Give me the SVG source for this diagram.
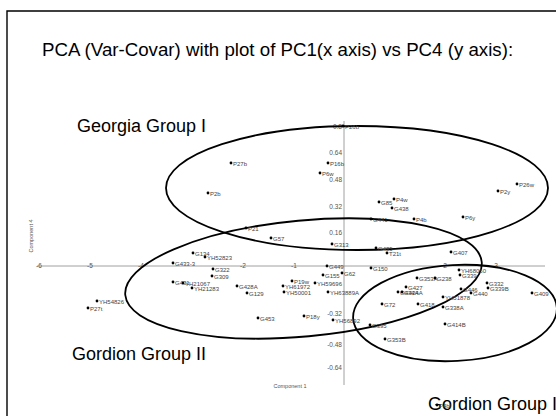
<svg xmlns="http://www.w3.org/2000/svg" width="556" height="416" viewBox="0 0 556 416">
<style>
.big{font-family:"Liberation Sans",Arial,sans-serif;font-size:18px;fill:#000}
.pt{font-family:"Liberation Sans",Arial,sans-serif;font-size:6px;fill:#444}
.tk{font-family:"Liberation Sans",Arial,sans-serif;font-size:6.5px;fill:#555}
.ell{fill:none;stroke:#000;stroke-width:1.8}
.ax{stroke:#888;stroke-width:0.8;fill:none}
</style>
<defs>
<circle id="d" r="1.4" fill="#000"/>
</defs>
<rect width="556" height="416" fill="#fff"/>
<polyline points="7,416 7,11 556,11" fill="none" stroke="#000" stroke-width="1.4"/>
<text class="big" x="42" y="56" style="font-size:18.7px">PCA (Var-Covar) with plot of PC1(x axis) vs PC4 (y axis):</text>

<g id="axes">
<line class="ax" x1="37" y1="266" x2="545" y2="266"/>
<line class="ax" x1="344" y1="121" x2="344" y2="385"/>
<g class="tk" text-anchor="middle">
<text x="39" y="268">-6</text><text x="90" y="268">-5</text><text x="141" y="268">-4</text>
<text x="243" y="268">-2</text><text x="294" y="268">-1</text>
<text x="445" y="268">2</text><text x="496" y="268">3</text>
</g>
<g class="tk" text-anchor="end">
<text x="342" y="129">0.8</text><text x="342" y="155">0.64</text><text x="342" y="182">0.48</text>
<text x="342" y="209">0.32</text><text x="342" y="235">0.16</text>
<text x="342" y="316">-0.32</text><text x="342" y="347">-0.48</text><text x="342" y="370">-0.64</text>
</g>
<text class="tk" x="290" y="388" text-anchor="middle" style="font-size:5.5px">Component 1</text>
<text class="tk" x="0" y="0" text-anchor="middle" style="font-size:5.5px" transform="translate(33,236) rotate(-90)">Component 4</text>
</g>

<g id="connectors">
<ellipse id="georgia-ellipse" class="ell" cx="357" cy="188" rx="191" ry="62"/>
<ellipse id="gordion2-ellipse" class="ell" cx="0" cy="0" rx="179" ry="58" transform="translate(303.5,278.5) rotate(-5.3)"/>
<ellipse id="gordion1-ellipse" class="ell" cx="0" cy="0" rx="102" ry="48" transform="translate(455,313) rotate(-3)"/>
</g>

<g id="georgia-group-i"><text class="big" x="77" y="132">Georgia Group I</text></g>
<g id="gordion-group-ii"><text class="big" x="72" y="360">Gordion Group II</text></g>
<g id="gordion-group-i"><text class="big" x="428" y="410">Gordion Group I</text></g>

<g id="points">
<use href="#d" x="343" y="126"/><text class="pt" x="345" y="129">P26b</text>
<use href="#d" x="231" y="163"/><text class="pt" x="233" y="166">P27b</text>
<use href="#d" x="328" y="163"/><text class="pt" x="330" y="166">P16b</text>
<use href="#d" x="320" y="173"/><text class="pt" x="322" y="176">P6w</text>
<use href="#d" x="208" y="193"/><text class="pt" x="210" y="196">P2b</text>
<use href="#d" x="246" y="228"/><text class="pt" x="248" y="231">P21</text>
<use href="#d" x="271" y="238"/><text class="pt" x="273" y="241">G57</text>
<use href="#d" x="332" y="244"/><text class="pt" x="334" y="247">G313</text>
<use href="#d" x="193" y="253"/><text class="pt" x="195" y="256">G134</text>
<use href="#d" x="205" y="257"/><text class="pt" x="207" y="260">YH52823</text>
<use href="#d" x="394" y="199"/><text class="pt" x="396" y="202">P4w</text>
<use href="#d" x="379" y="202"/><text class="pt" x="381" y="205">G85</text>
<use href="#d" x="392" y="208"/><text class="pt" x="394" y="211">G438</text>
<use href="#d" x="371" y="219"/><text class="pt" x="373" y="222">G441</text>
<use href="#d" x="414" y="219"/><text class="pt" x="416" y="222">P4b</text>
<use href="#d" x="463" y="217"/><text class="pt" x="465" y="220">P6y</text>
<use href="#d" x="498" y="191"/><text class="pt" x="500" y="194">P2y</text>
<use href="#d" x="517" y="184"/><text class="pt" x="519" y="187">P26w</text>
<use href="#d" x="451" y="252"/><text class="pt" x="453" y="255">G407</text>
<use href="#d" x="376" y="248"/><text class="pt" x="378" y="251">G435</text>
<use href="#d" x="387" y="253"/><text class="pt" x="389" y="256">T21t</text>
<use href="#d" x="173" y="263"/><text class="pt" x="175" y="266">G433-3</text>
<use href="#d" x="173" y="282"/><text class="pt" x="175" y="285">G431</text>
<use href="#d" x="183" y="283"/><text class="pt" x="185" y="286">YH21067</text>
<use href="#d" x="192" y="288"/><text class="pt" x="194" y="291">YH21283</text>
<use href="#d" x="97" y="301"/><text class="pt" x="99" y="304">YH54826</text>
<use href="#d" x="88" y="308"/><text class="pt" x="90" y="311">P27t</text>
<use href="#d" x="213" y="269"/><text class="pt" x="215" y="272">G322</text>
<use href="#d" x="212" y="276"/><text class="pt" x="214" y="279">G309</text>
<use href="#d" x="237" y="286"/><text class="pt" x="239" y="289">G428A</text>
<use href="#d" x="247" y="293"/><text class="pt" x="249" y="296">G129</text>
<use href="#d" x="292" y="281"/><text class="pt" x="294" y="284">P19w</text>
<use href="#d" x="283" y="286"/><text class="pt" x="285" y="289">YH61972</text>
<use href="#d" x="284" y="292"/><text class="pt" x="286" y="295">YH50001</text>
<use href="#d" x="327" y="266"/><text class="pt" x="329" y="269">G449</text>
<use href="#d" x="323" y="275"/><text class="pt" x="325" y="278">G155</text>
<use href="#d" x="342" y="273"/><text class="pt" x="344" y="276">G62</text>
<use href="#d" x="315" y="283"/><text class="pt" x="317" y="286">YH59696</text>
<use href="#d" x="328" y="292"/><text class="pt" x="330" y="295">YH63889A</text>
<use href="#d" x="258" y="318"/><text class="pt" x="260" y="321">G453</text>
<use href="#d" x="304" y="316"/><text class="pt" x="306" y="319">P18y</text>
<use href="#d" x="333" y="320"/><text class="pt" x="335" y="323">YH56892</text>
<use href="#d" x="371" y="268"/><text class="pt" x="373" y="271">G150</text>
<use href="#d" x="459" y="270"/><text class="pt" x="461" y="273">YH68060</text>
<use href="#d" x="460" y="275"/><text class="pt" x="462" y="278">G339</text>
<use href="#d" x="417" y="278"/><text class="pt" x="419" y="281">G353A</text>
<use href="#d" x="435" y="278"/><text class="pt" x="437" y="281">G238</text>
<use href="#d" x="487" y="283"/><text class="pt" x="489" y="286">G332</text>
<use href="#d" x="488" y="288"/><text class="pt" x="490" y="291">G339B</text>
<use href="#d" x="406" y="287"/><text class="pt" x="408" y="290">G427</text>
<use href="#d" x="398" y="292"/><text class="pt" x="400" y="295">G434A</text>
<use href="#d" x="402" y="292"/><text class="pt" x="404" y="295">G424A</text>
<use href="#d" x="461" y="289"/><text class="pt" x="463" y="292">G446</text>
<use href="#d" x="471" y="293"/><text class="pt" x="473" y="296">G440</text>
<use href="#d" x="532" y="293"/><text class="pt" x="534" y="296">G409</text>
<use href="#d" x="443" y="297"/><text class="pt" x="445" y="300">YH51878</text>
<use href="#d" x="382" y="304"/><text class="pt" x="384" y="307">G72</text>
<use href="#d" x="418" y="304"/><text class="pt" x="420" y="307">G418</text>
<use href="#d" x="443" y="307"/><text class="pt" x="445" y="310">G338A</text>
<use href="#d" x="370" y="325"/><text class="pt" x="372" y="328">G395</text>
<use href="#d" x="445" y="324"/><text class="pt" x="447" y="327">G414B</text>
<use href="#d" x="385" y="339"/><text class="pt" x="387" y="342">G353B</text>
<use href="#d" x="437" y="405"/><text class="pt" x="439" y="408">P4bl</text>
</g>
</svg>
